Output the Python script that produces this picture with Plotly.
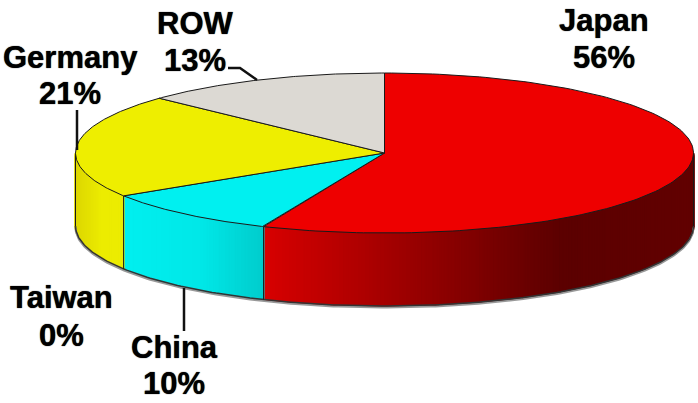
import numpy as np
import plotly.graph_objects as go

# Data
countries = ["Japan", "China", "Taiwan", "Germany", "ROW"]
shares = [56.4, 9.6, 0, 21, 13]
top_colors = ["#ee0000", "#00f0f0", "#00a0a0", "#eeee00", "#dcd9d3"]
# side shading: (x pixel, colour) stops per country
side_stops = {
    "Japan": ([263, 420, 560, 694], [(216, 0, 0), (150, 0, 0), (92, 0, 0), (98, 0, 0)]),
    "China": ([122, 200, 262], [(0, 240, 240), (0, 232, 232), (0, 205, 205)]),
    "Germany": ([76, 100, 122], [(222, 216, 0), (236, 236, 0), (236, 236, 0)]),
    "Taiwan": ([0, 1], [(0, 160, 160), (0, 160, 160)]),
    "ROW": ([0, 1], [(200, 200, 200), (200, 200, 200)]),
}
label_pos = {"Japan": (604, 20, 57), "ROW": (195, 23, 60), "Germany": (70, 57, 93),
             "Taiwan": (61, 297, 335), "China": (174, 347, 383)}
leaders = [
    ([228, 240, 257], [68, 68, 80]),
    ([77, 77], [110, 150]),
    ([184, 184], [288, 331]),
]

CX, CY, RX, RY, DEPTH = 384.5, 153, 309, 80, 73
W, H = 698, 403
EDGE = "#1a1a1a"


def ellipse(t, dy=0):
    return CX + RX * np.sin(t), CY + dy - RY * np.cos(t)


fig = go.Figure()
bounds = np.cumsum([0] + shares) / sum(shares) * 2 * np.pi

# Side wall strips
for i, name in enumerate(countries):
    a, b = max(bounds[i], np.pi / 2), min(bounds[i + 1], 3 * np.pi / 2)
    if b <= a:
        continue
    xs_stop, cols = side_stops[name]
    n = max(2, int((b - a) / 0.012))
    ts = np.linspace(a, b, n + 1)
    for t0, t1 in zip(ts[:-1], ts[1:]):
        x0, y0 = ellipse(t0)
        x1, y1 = ellipse(t1)
        xm = (x0 + x1) / 2
        c = [int(np.interp(xm, xs_stop, [s[k] for s in cols])) for k in range(3)]
        col = f"rgb({c[0]},{c[1]},{c[2]})"
        fig.add_trace(go.Scatter(
            x=[x0, x1, x1, x0, x0], y=[y0, y1, y1 + DEPTH, y0 + DEPTH, y0],
            mode="lines", fill="toself", fillcolor=col,
            line=dict(color=col, width=2), hoverinfo="skip", showlegend=False))

# Bottom rim (grey shadow, then dark edge)
tb = np.linspace(np.pi / 2, 3 * np.pi / 2, 200)
xb, yb = ellipse(tb, DEPTH)
fig.add_trace(go.Scatter(x=xb, y=yb + 1.5, mode="lines", line=dict(color="#999999", width=2),
                         hoverinfo="skip", showlegend=False))
fig.add_trace(go.Scatter(x=xb, y=yb, mode="lines", line=dict(color="#333333", width=1.5),
                         hoverinfo="skip", showlegend=False))

# Vertical wall edges
for bd in [np.pi / 2, bounds[1], 3 * np.pi / 2, bounds[3]]:
    x0, y0 = ellipse(bd)
    fig.add_trace(go.Scatter(x=[x0, x0], y=[y0, y0 + DEPTH], mode="lines",
                             line=dict(color=EDGE, width=1), hoverinfo="skip", showlegend=False))

# Top wedges
for i, name in enumerate(countries):
    if shares[i] == 0:
        continue
    ts = np.linspace(bounds[i], bounds[i + 1], 160)
    ex, ey = ellipse(ts)
    fig.add_trace(go.Scatter(
        x=np.r_[CX, ex, CX], y=np.r_[CY, ey, CY], mode="lines", fill="toself",
        fillcolor=top_colors[i], line=dict(color=EDGE, width=1),
        name=name, hoverinfo="name", showlegend=False))

# Leader lines
for lx, ly in leaders:
    fig.add_trace(go.Scatter(x=lx, y=ly, mode="lines", line=dict(color="#111111", width=2.5),
                             hoverinfo="skip", showlegend=False))

# Labels (two separate lines so their spacing can match)
for name, share in zip(countries, shares):
    px, py1, py2 = label_pos[name]
    for txt, py in ((name, py1), (f"{round(share)}%", py2)):
        fig.add_annotation(x=px, y=py, text=f"<b>{txt}</b>", showarrow=False,
                           xanchor="center", yanchor="middle", align="center",
                           font=dict(family="Liberation Sans, Arial, sans-serif", size=31,
                                     color="#000000", shadow="0 0 1px #000"))

fig.update_layout(
    width=W, height=H, margin=dict(l=0, r=0, t=0, b=0),
    paper_bgcolor="white", plot_bgcolor="white", showlegend=False,
    xaxis=dict(range=[0, W], visible=False, fixedrange=True),
    yaxis=dict(range=[H, 0], visible=False, fixedrange=True),
)
fig.write_html("out.html", config={"displayModeBar": False},
               post_script="document.body.style.margin='0';document.body.style.overflow='hidden';")
